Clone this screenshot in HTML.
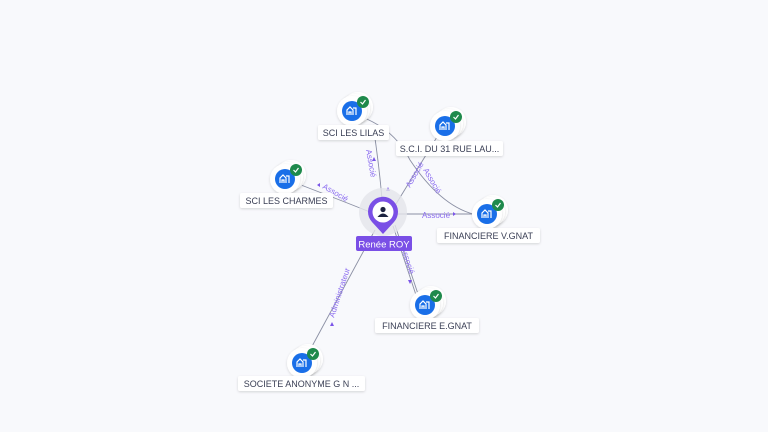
<!DOCTYPE html>
<html><head><style>
html,body{margin:0;padding:0;background:#f8f9fc;}
svg{display:block;font-family:"Liberation Sans",sans-serif;}
</style></head><body>
<svg width="768" height="432" viewBox="0 0 768 432" xmlns="http://www.w3.org/2000/svg">
<defs>
<filter id="sh" x="-30%" y="-30%" width="160%" height="160%"><feDropShadow dx="0" dy="1" stdDeviation="1.2" flood-color="#000" flood-opacity="0.15"/></filter>
<g id="ico">
 <circle cx="6" cy="-4" r="15" fill="#fff" filter="url(#sh)"/>
 <circle cx="3" cy="-2" r="15" fill="#fff" filter="url(#sh)"/>
 <circle cx="0" cy="0" r="15" fill="#fff" filter="url(#sh)"/>
 <circle cx="0" cy="0" r="10" fill="#1a6fe8"/>
 <path d="M-5 4 V-1 L-2 -4 L1 -1 V4 M-3 4 V1 H-1 V4 M1 -3 H4 V4" stroke="#fff" stroke-width="1.2" fill="none"/>
 <circle cx="11" cy="-9" r="6" fill="#1f8a4c"/>
 <path d="M8.5 -9 L10.5 -7 L13.5 -11" stroke="#fff" stroke-width="1.2" fill="none"/>
</g>
</defs>
<g stroke="#8a8fa3" stroke-width="0.9" fill="none">
 <path d="M383 212 Q380 170 373 125"/>
 <path d="M362 117 Q395 130 410 160 Q440 205 473 214"/>
 <path d="M396 204 L437 137"/>
 <path d="M370 212 Q340 200 301 185"/>
 <path d="M398 214 L472 214"/>
 <path d="M395 225 L418 294"/>
 <path d="M393 226 L416 295"/>
 <path d="M375 230 L310 350"/>
</g>
<g fill="#8b6cf0" font-size="8">
 <text transform="translate(366,150) rotate(80)">Associé</text>
 <text transform="translate(410,188) rotate(-60)">Associé</text>
 <text transform="translate(423,170) rotate(60)">Associé</text>
 <text transform="translate(322,188) rotate(30)">Associé</text>
 <text x="422" y="218">Associé</text>
 <text transform="translate(401,248) rotate(72)">Associé</text>
 <text transform="translate(334,318) rotate(-72)">Administrateur</text>
</g>
<g fill="#7b55e8">
 <path d="M374 157 l-2 4 h4z"/><path d="M388 187 l-2 4 h4z"/><path d="M317 185 l3 -2 v4z"/><path d="M456 214 l-3 -2 v4z"/><path d="M410 284 l-2 -4 h4z"/><path d="M332 322 l-2 4 h4z"/>
</g>
<!-- center -->
<circle cx="383" cy="212" r="24" fill="#e4e5ea" opacity="0.8"/>
<path d="M383 234 L372 222 A15 15 0 1 1 394 222 Z" fill="#7a4fe6"/>
<circle cx="383" cy="212" r="10.5" fill="#fff"/>
<circle cx="383" cy="209.5" r="2.6" fill="#1c2340"/>
<path d="M377.5 217 Q383 210 388.5 217 Z" fill="#1c2340"/>
<rect x="356" y="236" width="56" height="15" rx="2" fill="#7a4fe6"/>
<text x="384" y="247.5" fill="#fff" font-size="9.5" text-anchor="middle">Renée ROY</text>
<!-- nodes -->
<use href="#ico" x="352" y="111"/>
<use href="#ico" x="445" y="126"/>
<use href="#ico" x="285" y="179"/>
<use href="#ico" x="487" y="214"/>
<use href="#ico" x="425" y="305"/>
<use href="#ico" x="302" y="363"/>
<g font-size="9" fill="#3a3f55" text-anchor="middle">
 <rect x="318" y="125" width="71" height="15" rx="2" fill="#fff" filter="url(#sh)"/><text x="353.5" y="136">SCI LES LILAS</text>
 <rect x="396" y="141" width="107" height="15" rx="2" fill="#fff" filter="url(#sh)"/><text x="449.5" y="152">S.C.I. DU 31 RUE LAU...</text>
 <rect x="240" y="193" width="93" height="15" rx="2" fill="#fff" filter="url(#sh)"/><text x="286.5" y="204">SCI LES CHARMES</text>
 <rect x="437" y="228" width="103" height="15" rx="2" fill="#fff" filter="url(#sh)"/><text x="488.5" y="239">FINANCIERE V.GNAT</text>
 <rect x="375" y="318" width="104" height="15" rx="2" fill="#fff" filter="url(#sh)"/><text x="427" y="329">FINANCIERE E.GNAT</text>
 <rect x="238" y="376" width="127" height="15" rx="2" fill="#fff" filter="url(#sh)"/><text x="301.5" y="387">SOCIETE ANONYME G N ...</text>
</g>
</svg>
</body></html>
